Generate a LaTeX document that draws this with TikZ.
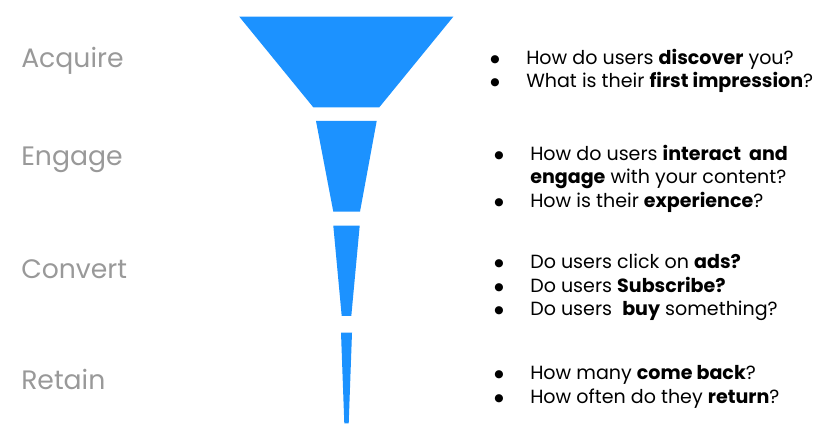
\documentclass[tikz,border=0pt]{standalone}
\usepackage{fontspec}
\setmainfont{Poppins}
\newfontfamily\dotfont{DejaVu Sans}
\usepackage{array}
\usetikzlibrary{positioning}
\definecolor{funnelblue}{RGB}{28,146,255}
\definecolor{stagegrey}{RGB}{153,153,153}
\newcommand{\qlist}[1]{\begin{tabular}{@{}p{27pt}@{}l@{}}#1\end{tabular}}
\newcommand{\qdot}{\raisebox{1.6pt}{\dotfont\fontsize{8}{8}\selectfont ●}}
\tikzset{
  funnel/.style={fill=funnelblue, draw=none},
  stage/.style={anchor=west, inner sep=0pt, text=stagegrey, font=\fontsize{20}{24}\selectfont},
  question/.style={anchor=west, inner sep=0pt, align=left, font=\fontsize{14.3}{17.6}\selectfont}
}
\begin{document}
\begin{tikzpicture}[x=0.75pt,y=0.75pt,yscale=-1,xscale=1]
            \useasboundingbox (0,0) rectangle (829,448);

            %Shape: Funnel parts
            \fill [funnel] (239.3,16.7) -- (453.3,16.7) -- (379.3,107.3) -- (313.3,107.3) -- cycle ;
            \fill [funnel] (316,121) -- (376.7,121) -- (360,211.7) -- (333.3,211.7) -- cycle ;
            \fill [funnel] (333.3,225.7) -- (359.7,225.7) -- (351.3,316) -- (341.7,316) -- cycle ;
            \fill [funnel] (341,332.7) -- (352,332.7) -- (348.7,423.3) -- (344.3,423.3) -- cycle ;

            % Stage names
            \node [stage] (acquire) at (21,61) {Acquire};
            \node [stage] (engage) at (21,160) {Engage};
            \node [stage] (convert) at (21,269) {Convert};
            \node [stage] (retain) at (21,379) {Retain};

            % Questions
            \node [question] (qacquire) at (490,71.5) {\qlist{%
              \qdot & How do users \textbf{discover} you?\\
              \qdot & What is their \textbf{first impression}?}};
            \node [question] (qengage) at (494,179) {\qlist{%
              \qdot & How do users \textbf{interact\ \ and}\\
                    & \textbf{engage} with your content?\\
              \qdot & How is their \textbf{experience}?}};
            \node [question] (qconvert) at (494,287.5) {\qlist{%
              \qdot & Do users click on \textbf{ads?}\\
              \qdot & Do users \textbf{Subscribe?}\\
              \qdot & Do users\ \ \textbf{buy} something?}};
            \node [question] (qretain) at (494,387) {\qlist{%
              \qdot & How many \textbf{come back}?\\
              \qdot & How often do they \textbf{return}?}};

\end{tikzpicture}
\end{document}
